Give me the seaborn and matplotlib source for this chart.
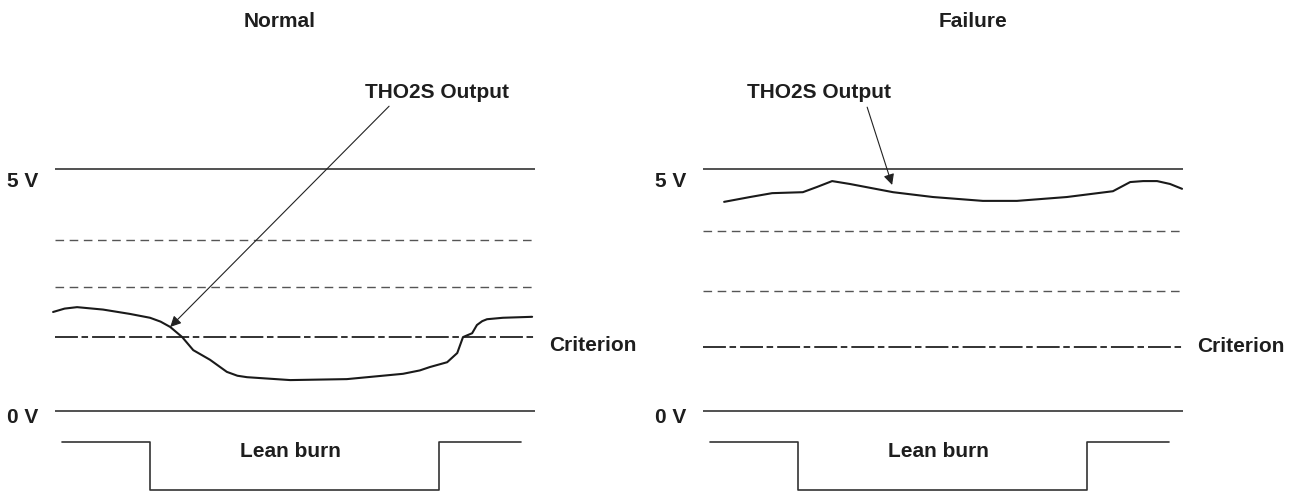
import numpy as np
import pandas as pd
import matplotlib
matplotlib.use("Agg")
import matplotlib.pyplot as plt
import seaborn as sns

# --- data (time in % of window, voltage in V) ---
panel_titles = ["Normal", "Failure"]

normal_t = [-0.4, 2.0, 4.6, 10.0, 15.6, 19.8, 22.0, 24.0, 26.5, 28.8, 32.3, 35.8, 38.0,
            40.0, 49.0, 60.8, 72.5, 76.0, 78.1, 81.7, 83.8, 85.0, 86.9, 87.9, 89.0,
            90.0, 93.3, 99.4]
normal_v = [2.05, 2.12, 2.15, 2.10, 2.01, 1.93, 1.85, 1.74, 1.53, 1.26, 1.06, 0.81, 0.73,
            0.70, 0.64, 0.66, 0.77, 0.84, 0.91, 1.01, 1.20, 1.53, 1.61, 1.78, 1.86,
            1.90, 1.93, 1.95]

failure_t = [4.4, 9.8, 14.4, 20.8, 23.8, 26.9, 30.6, 39.6, 47.9, 58.3, 65.4,
             75.8, 85.4, 89.0, 91.7, 94.6, 97.3, 99.8]
failure_v = [4.33, 4.43, 4.51, 4.53, 4.64, 4.76, 4.70, 4.53, 4.43, 4.35, 4.35,
             4.43, 4.55, 4.74, 4.76, 4.76, 4.70, 4.60]

rail_levels = [0.0, 5.0]
dashed_levels = {"Normal": [3.53, 2.56], "Failure": [3.73, 2.48]}
criterion = {"Normal": 1.53, "Failure": 1.33}

# lean burn indicator (schematic level below 0 V)
lean_edges = [1.5, 19.8, 80.0, 97.0]
lean_high, lean_low = -0.64, -1.64

# arrow from label to curve: (start_t, start_v, tip_t, tip_v)
arrows = {"Normal": (69.6, 6.31, 24.0, 1.74), "Failure": (34.2, 6.29, 39.4, 4.68)}
label_pos = {"Normal": (79.5, 6.60), "Failure": (24.1, 6.60)}
title_x = {"Normal": 46.7, "Failure": 56.3}

plt.rcParams["lines.scale_dashes"] = False
sns.set_theme(style="white")
plt.rcParams["font.family"] = ["Liberation Sans", "DejaVu Sans"]

fig = plt.figure(figsize=(12.98, 4.92), dpi=100)
axes = [fig.add_axes([0, 0, 649 / 1298, 1]),
        fig.add_axes([648 / 1298, 0, 649 / 1298, 1])]

curves = {"Normal": (normal_t, normal_v), "Failure": (failure_t, failure_v)}
txt = dict(fontsize=15, fontweight="bold", color="#1e1e1e")

for ax, name in zip(axes, panel_titles):
    ax.set_xlim(-11.46, 123.75)
    ax.set_ylim(-1.677, 8.509)
    ax.axis("off")

    # 0 V / 5 V rails
    ax.hlines(rail_levels, 0, 100, color="#333333", lw=1.2)
    # reference dashed lines
    ax.hlines(dashed_levels[name], 0, 100, color="#555555", lw=1.0,
              linestyles=[(0, (6.2, 4))])
    # criterion dash-dot
    ax.hlines(criterion[name], 0, 100, color="#222222", lw=1.3,
              linestyles=[(0, (16.5, 2.6, 4.7, 2.9))])

    t, v = curves[name]
    df = pd.DataFrame({"t": t, "v": v})
    sns.lineplot(data=df, x="t", y="v", ax=ax, color="#1a1a1a", lw=1.5,
                 sort=False, estimator=None)

    # lean burn step signal
    lx = [lean_edges[0], lean_edges[1], lean_edges[1], lean_edges[2], lean_edges[2], lean_edges[3]]
    ly = [lean_high, lean_high, lean_low, lean_low, lean_high, lean_high]
    ax.plot(lx, ly, color="#333333", lw=1.2)

    st, sv, tt, tv = arrows[name]
    ax.annotate("", xy=(tt, tv), xytext=(st, sv),
                arrowprops=dict(arrowstyle="-|>", color="#222222", lw=0.8,
                                mutation_scale=16, shrinkA=0, shrinkB=0))

    ax.text(*label_pos[name], "THO2S Output", ha="center", va="center", **txt)
    ax.text(title_x[name], 8.07, name, ha="center", va="center", **txt)
    ax.text(-10.0, 4.76, "5 V", ha="left", va="center", **txt)
    ax.text(-10.0, -0.14, "0 V", ha="left", va="center", **txt)
    ax.text(103.0, criterion[name] - (0.18 if name == "Normal" else 0.0),
            "Criterion", ha="left", va="center", **txt)
    ax.text(49.0, -0.83, "Lean burn", ha="center", va="center", **txt)

fig.savefig("out.png", dpi=100)
